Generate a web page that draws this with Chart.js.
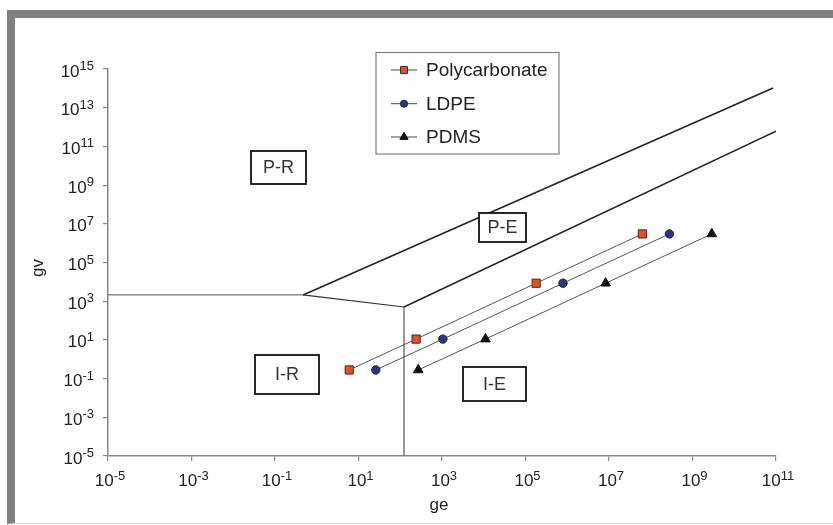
<!DOCTYPE html>
<html>
<head>
<meta charset="utf-8">
<script src="https://cdn.jsdelivr.net/npm/chart.js@4/dist/chart.umd.min.js"></script>
<style>
  body { margin: 0; background: #fff; }
  #wrap { position: relative; width: 833px; height: 525px; background: #fff; overflow: hidden; }
  #frame {
    position: absolute; left: 7px; top: 10px; right: 0; bottom: 1px;
    border-top: 8px solid #808080; border-left: 8px solid #808080;
    border-bottom: 1px solid #d9d9d9; box-sizing: border-box;
  }
  #chart { position: absolute; left: 0; top: 0; }
</style>
</head>
<body>
<div id="wrap">
  <div id="frame"></div>
  <canvas id="chart" width="833" height="525"></canvas>
</div>
<script>
// material series: ge values per point, gv shared across materials
const pcGe = [6, 240, 1.8e5, 6.3e7];
const ldpeGe = [26, 1050, 7.9e5, 2.8e8];
const pdmsGe = [270, 1.1e4, 8.3e6, 2.9e9];
const gvLevels = [0.28, 11, 8500, 3e6];

// regime boundaries as [ge, gv] pairs
const rigidFlat = [[1e-5, 2100], [0.47, 2100]];
const rigidKink = [[0.47, 2100], [123, 500]];
const elasticWall = [[123, 500], [123, 1e-5]];
const upperBound = [[0.47, 2100], [8.5e10, 1.05e14]];
const lowerBound = [[123, 500], [1e11, 6.2e11]];

const xTickExp = [-5, -3, -1, 1, 3, 5, 7, 9, 11];
const yTickExp = [-5, -3, -1, 1, 3, 5, 7, 9, 11, 13, 15];

const regionNames = ["P-R", "P-E", "I-R", "I-E"];
const seriesNames = ["Polycarbonate", "LDPE", "PDMS"];

const FONT = '"Liberation Sans", Arial, sans-serif';

function pts(ge, gv) {
  return ge.map((x, i) => ({ x: x, y: gv[i] }));
}
function pairs(arr) {
  return arr.map(p => ({ x: p[0], y: p[1] }));
}
function bound(data, color, width) {
  return {
    data: pairs(data), showLine: true, borderColor: color, borderWidth: width,
    pointRadius: 0, fill: false, order: 2
  };
}

const markerStyles = [
  { pointStyle: "rect", radius: 5.8, fill: "#f24a1a", stroke: "#333" },
  { pointStyle: "circle", radius: 4.2, fill: "#2e3192", stroke: "#222" },
  { pointStyle: "triangle", radius: 5.6, fill: "#111", stroke: "#111" }
];

function series(ge, i) {
  const m = markerStyles[i];
  return {
    label: seriesNames[i], data: pts(ge, gvLevels), showLine: true,
    borderColor: "#555", borderWidth: 1,
    pointStyle: m.pointStyle, pointRadius: m.radius,
    pointBackgroundColor: m.fill, pointBorderColor: m.stroke, pointBorderWidth: 1,
    order: 1
  };
}

// "10" with a raised exponent
function drawPower(ctx, exp, x, baseline, align) {
  ctx.font = "17px " + FONT;
  const bw = ctx.measureText("10").width;
  ctx.font = "13px " + FONT;
  const sw = ctx.measureText(String(exp)).width;
  const total = bw + sw;
  const left = align === "right" ? x - total : x - total / 2;
  ctx.textAlign = "left";
  ctx.textBaseline = "alphabetic";
  ctx.fillStyle = "#222";
  ctx.font = "17px " + FONT;
  ctx.fillText("10", left, baseline);
  ctx.font = "13px " + FONT;
  ctx.fillText(String(exp), left + bw, baseline - 6.5);
}

const regionBoxes = [
  { x: 251, y: 151, w: 55, h: 33 },
  { x: 479, y: 213, w: 47, h: 29 },
  { x: 255, y: 355, w: 64, h: 39 },
  { x: 463, y: 367, w: 63, h: 34 }
];

const annotate = {
  id: "annotate",
  afterDatasetsDraw(chart) {
    const ctx = chart.ctx;
    const xs = chart.scales.x, ys = chart.scales.y;
    ctx.save();

    // tick labels
    xTickExp.forEach(e => drawPower(ctx, e, xs.getPixelForValue(Math.pow(10, e)) + 2, 486, "center"));
    yTickExp.forEach(e => drawPower(ctx, e, 94, ys.getPixelForValue(Math.pow(10, e)) + 7.5, "right"));

    // axis titles
    ctx.fillStyle = "#222";
    ctx.font = "17px " + FONT;
    ctx.textAlign = "center";
    ctx.textBaseline = "alphabetic";
    ctx.fillText("ge", 439, 510);
    ctx.save();
    ctx.translate(43, 268);
    ctx.rotate(-Math.PI / 2);
    ctx.fillText("gv", 0, 0);
    ctx.restore();

    // regime labels
    regionBoxes.forEach((b, i) => {
      ctx.fillStyle = "#fff";
      ctx.fillRect(b.x, b.y, b.w, b.h);
      ctx.strokeStyle = "#111";
      ctx.lineWidth = 1.8;
      ctx.strokeRect(b.x, b.y, b.w, b.h);
      ctx.fillStyle = "#333";
      ctx.font = "18px " + FONT;
      ctx.textAlign = "center";
      ctx.textBaseline = "middle";
      ctx.fillText(regionNames[i], b.x + b.w / 2, b.y + b.h / 2 + 1);
    });

    // legend
    const lx = 376, ly = 52.5, lw = 183, lh = 101.5;
    ctx.fillStyle = "#fff";
    ctx.fillRect(lx, ly, lw, lh);
    ctx.strokeStyle = "#808080";
    ctx.lineWidth = 1.2;
    ctx.strokeRect(lx, ly, lw, lh);
    const rowY = [70, 103.7, 137];
    seriesNames.forEach((name, i) => {
      const m = markerStyles[i];
      const y = rowY[i];
      ctx.strokeStyle = "#444";
      ctx.lineWidth = 1;
      ctx.beginPath();
      ctx.moveTo(391, y);
      ctx.lineTo(417, y);
      ctx.stroke();
      ctx.fillStyle = m.fill;
      ctx.strokeStyle = m.stroke;
      ctx.lineWidth = 1;
      Chart.helpers.drawPoint(ctx, { pointStyle: m.pointStyle, radius: m.radius * 0.85, borderWidth: 1 }, 404, y);
      ctx.fillStyle = "#222";
      ctx.font = "19px " + FONT;
      ctx.textAlign = "left";
      ctx.textBaseline = "middle";
      ctx.fillText(name, 426, y + 1);
    });
    ctx.restore();
  }
};

const axisBase = {
  type: "logarithmic",
  ticks: { display: false },
  grid: { display: true, drawOnChartArea: false, drawTicks: true, tickLength: 5, color: "#888", lineWidth: 1.2 },
  border: { display: true, color: "#888", width: 1.5 }
};

new Chart(document.getElementById("chart"), {
  type: "scatter",
  data: {
    datasets: [
      bound(rigidFlat, "#777", 1.2),
      bound(rigidKink, "#333", 1.2),
      bound(elasticWall, "#555", 1.2),
      bound(upperBound, "#222", 1.5),
      bound(lowerBound, "#222", 1.5),
      series(pcGe, 0),
      series(ldpeGe, 1),
      series(pdmsGe, 2)
    ]
  },
  options: {
    responsive: false,
    animation: false,
    devicePixelRatio: 1,
    layout: { padding: { left: 103, right: 57, top: 69, bottom: 64 } },
    plugins: { legend: { display: false }, tooltip: { enabled: false } },
    scales: {
      x: Object.assign({}, axisBase, {
        position: "bottom", min: 1e-5, max: 1e11,
        afterBuildTicks: s => { s.ticks = xTickExp.map(e => ({ value: Math.pow(10, e) })); }
      }),
      y: Object.assign({}, axisBase, {
        position: "left", min: 1e-5, max: 1e15,
        afterBuildTicks: s => { s.ticks = yTickExp.map(e => ({ value: Math.pow(10, e) })); }
      })
    }
  },
  plugins: [annotate]
});
</script>
</body>
</html>
